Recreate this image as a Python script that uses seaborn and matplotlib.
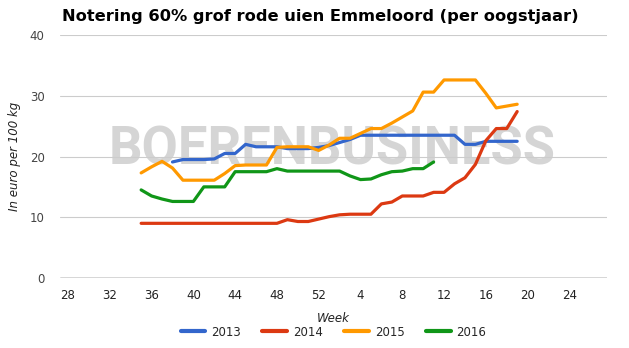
import matplotlib
matplotlib.use("Agg")
import matplotlib.pyplot as plt
import seaborn as sns
import pandas as pd

# ---- data -------------------------------------------------------------
weeks = list(range(35, 53)) + list(range(1, 20))

s2013 = [None, None, None,
         19.1, 19.5, 19.5, 19.5, 19.6, 20.5, 20.5, 22.0, 21.6, 21.6, 21.6,
         21.3, 21.3, 21.3, 21.5, 21.8, 22.3, 22.8, 23.5,
         23.5, 23.5, 23.5, 23.5, 23.5, 23.5, 23.5, 23.5, 23.5,
         22.0, 22.0, 22.5, 22.5, 22.5, 22.5]
s2014 = [9.0, 9.0, 9.0, 9.0, 9.0, 9.0, 9.0, 9.0, 9.0, 9.0, 9.0, 9.0, 9.0, 9.0,
         9.6, 9.3, 9.3, 9.7, 10.1, 10.4, 10.5, 10.5, 10.5,
         12.2, 12.5, 13.5, 13.5, 13.5, 14.1, 14.1, 15.5, 16.5, 18.7,
         22.6, 24.6, 24.6, 27.4]
s2015 = [17.3, 18.3, 19.2, 18.1, 16.1, 16.1, 16.1, 16.1, 17.2, 18.5, 18.6,
         18.6, 18.6, 21.5, 21.6, 21.6, 21.6, 21.0, 21.9, 23.0, 23.0, 23.8,
         24.6, 24.6, 25.5, 26.5, 27.5, 30.6, 30.6, 32.6, 32.6, 32.6, 32.6,
         30.4, 28.0, 28.3, 28.6]
s2016 = [14.5, 13.5, 13.0, 12.6, 12.6, 12.6, 15.0, 15.0, 15.0, 17.5, 17.5,
         17.5, 17.5, 18.0, 17.6, 17.6, 17.6, 17.6, 17.6, 17.6, 16.8, 16.2,
         16.3, 17.0, 17.5, 17.6, 18.0, 18.0, 19.1,
         None, None, None, None, None, None, None, None]

years = ["2013", "2014", "2015", "2016"]
series = [s2013, s2014, s2015, s2016]
colors = ["#3366cc", "#dc3912", "#ff9900", "#109618"]
tick_weeks = [28, 32, 36, 40, 44, 48, 52, 4, 8, 12, 16, 20, 24]
y_ticks = [0, 10, 20, 30, 40]


def week_pos(w):
    # harvest-year ordering: week 28 .. 52, then 1 .. 27
    return w - 28 if w >= 28 else w + 24


rows = []
for yr, vals in zip(years, series):
    for w, v in zip(weeks, vals):
        if v is not None:
            rows.append({"pos": week_pos(w), "value": v, "year": yr})
df = pd.DataFrame(rows)

# ---- figure -----------------------------------------------------------
sns.set_style("white")
plt.rcParams["font.family"] = ["DejaVu Sans"]

W, H = 629, 348
fig = plt.figure(figsize=(W / 100, H / 100), dpi=100)
ax = fig.add_axes([60 / W, 1 - 278 / H, (607 - 60) / W, (278 - 35) / H])

# watermark
ax.text((332 - 60) / 547, 1 - (150 - 35) / 243, "BOERENBUSINESS",
        transform=ax.transAxes, ha="center", va="center", fontsize=37.8,
        fontweight="bold", family=["Roboto", "DejaVu Sans"],
        color="#d5d5d5", zorder=0.5)

sns.lineplot(data=df, x="pos", y="value", hue="year", hue_order=years,
             palette=colors, linewidth=2.3, ax=ax, sort=True, zorder=3)

ax.set_xlim(-0.77, 51.6)
ax.set_ylim(0, 40)
ax.set_yticks(y_ticks)
ax.set_yticklabels([str(t) for t in y_ticks], color="#444444", fontsize=8.5)
ax.set_xticks([week_pos(w) for w in tick_weeks])
ax.set_xticklabels([str(w) for w in tick_weeks], color="#222222", fontsize=8.5)
ax.tick_params(axis="both", length=0)
ax.tick_params(axis="y", pad=11)
ax.tick_params(axis="x", pad=8)

for t in y_ticks[1:]:
    ax.axhline(t, color="#cccccc", lw=0.8, zorder=1)
ax.axhline(0, color="#333333", lw=1.0, zorder=4)
for s in ax.spines.values():
    s.set_visible(False)

ax.set_xlabel("Week", fontstyle="italic", fontsize=8.5, color="#222222")
ax.xaxis.set_label_coords(0.5, -(312 - 278) / 243)
ax.set_ylabel("In euro per 100 kg", fontstyle="italic", fontsize=8.5,
              color="#222222")
ax.yaxis.set_label_coords(-(60 - 21) / 547, 0.5)

leg = ax.legend(loc="center", bbox_to_anchor=(0.5, -(332 - 278) / 243),
                ncol=4, frameon=False, fontsize=8.5, handlelength=2.1,
                handletextpad=0.5, columnspacing=1.8)
for line in leg.get_lines():
    line.set_linewidth(3)

fig.text(62 / W, 1 - 17 / H,
         "Notering 60% grof rode uien Emmeloord (per oogstjaar)",
         ha="left", va="center", fontsize=11.7, fontweight="bold",
         color="#000000")

fig.savefig("out.png", dpi=100)
